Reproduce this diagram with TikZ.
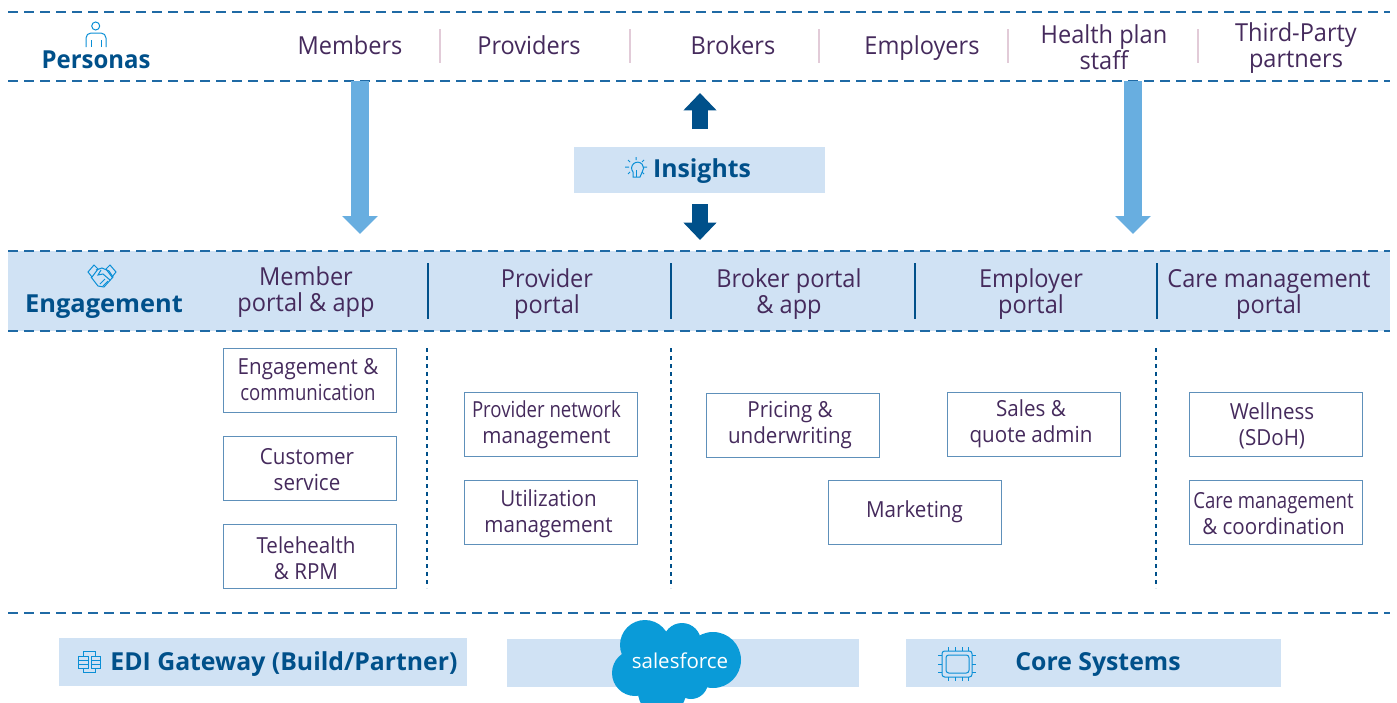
\documentclass[tikz,border=0pt]{standalone}
\usepackage{fontspec}
\setmainfont{Open Sans}
\usetikzlibrary{arrows.meta}
\definecolor{headblue}{HTML}{00508A}
\definecolor{lineblue}{HTML}{1F6AA5}
\definecolor{bandblue}{HTML}{D0E2F4}
\definecolor{arrowblue}{HTML}{68AEE0}
\definecolor{iconblue}{HTML}{0A8FD6}
\definecolor{cloudblue}{HTML}{0A9BD8}
\definecolor{textpurple}{HTML}{452A5C}
\definecolor{sepink}{HTML}{E2CBD8}
\definecolor{boxline}{HTML}{5E90BA}
\newcommand\narrowtext[1]{{\addfontfeature{FakeStretch=.84}#1}}
\tikzset{
  label/.style={inner sep=0pt,align=center,text=textpurple,font=\addfontfeature{FakeStretch=.95}\fontsize{18.6pt}{19.5pt}\selectfont},
  heading/.style={inner sep=0pt,align=center,text=headblue,font=\fontsize{18.6pt}{20pt}\selectfont\bfseries},
  areabox/.style={draw=boxline,line width=.7pt,minimum width=129.75pt,minimum height=48pt,inner sep=0pt},
  areatext/.style={inner sep=0pt,align=center,text=textpurple,font=\addfontfeature{FakeStretch=.93}\fontsize{16.6pt}{19.5pt}\selectfont},
  band/.style={fill=bandblue,inner sep=0pt},
  rule/.style={draw=lineblue,line width=1.1pt,dash pattern=on 7.5pt off 4.5pt},
  portalsep/.style={draw=headblue,line width=1.5pt},
  areasep/.style={draw=headblue,line width=1pt,dash pattern=on 3pt off 3pt},
  personasep/.style={draw=sepink,line width=1.8pt},
  flowdown/.style={draw=arrowblue,line width=13.5pt,-{Triangle[length=13.5pt,width=26pt]}},
  insightflow/.style={draw=headblue,line width=12pt,-{Triangle[length=13pt,width=24pt]}},
  icon/.style={draw=iconblue,line width=.75pt}
}
\begin{document}
\begin{tikzpicture}[x=.75pt,y=-.75pt]
\clip (0, 0) rectangle (1397, 703);

% bands
\fill [bandblue] (8, 251) rectangle (1390, 331);
\node (insightsband) at (699.5, 170) [band,minimum width=188.25pt,minimum height=34.5pt] {};
\node (ediband) at (263, 662) [band,minimum width=306pt,minimum height=36pt] {};
\node (sfband) at (683, 663) [band,minimum width=264pt,minimum height=36pt] {};
\node (coreband) at (1093.5, 663) [band,minimum width=281.25pt,minimum height=36pt] {};

% dashed rules
\coordinate (ruleaL) at (8, 12);
\coordinate (ruleaR) at (1390, 12);
\coordinate (rulebL) at (8, 81);
\coordinate (rulebR) at (1390, 81);
\coordinate (rulecL) at (8, 251);
\coordinate (rulecR) at (1390, 251);
\coordinate (ruledL) at (8, 331);
\coordinate (ruledR) at (1390, 331);
\coordinate (ruleeL) at (8, 613);
\coordinate (ruleeR) at (1390, 613);
\draw [rule] (ruleaL) -- (ruleaR);
\draw [rule] (rulebL) -- (rulebR);
\draw [rule] (rulecL) -- (rulecR);
\draw [rule] (ruledL) -- (ruledR);
\draw [rule] (ruleeL) -- (ruleeR);

% personas
\node (personas) at (96, 60) [heading] {\addfontfeature{FakeStretch=.965}Personas};
\node (members) at (350, 45) [label] {Members};
\node (providers) at (529, 45) [label] {Providers};
\node (brokers) at (733, 45) [label] {Brokers};
\node (employers) at (922, 48) [label] {Employers};
\node (healthplan) at (1104, 47) [label] {Health plan\\staff};
\node (thirdparty) at (1296, 48) [label] {Third-Party\\partners};
\newcommand\personasep[1]{%
\draw [personasep] (#1, 29) -- (#1, 63);%
}
\personasep{440}
\personasep{630}
\personasep{819}
\personasep{1008}
\personasep{1198}

% arrows
\coordinate (memberstart) at (360, 81);
\coordinate (memberend) at (360, 234);
\coordinate (staffstart) at (1133, 81);
\coordinate (staffend) at (1133, 234);
\draw [flowdown] (memberstart) -- (memberend);
\draw [flowdown] (staffstart) -- (staffend);
\coordinate (upstart) at (700, 129);
\coordinate (upend) at (700, 93);
\coordinate (downstart) at (700, 204);
\coordinate (downend) at (700, 240);
\draw [insightflow] (upstart) -- (upend);
\draw [insightflow] (downstart) -- (downend);
\node (insights) at (702, 171) [heading] {Insights};

% engagement
\node (engagement) at (104, 307) [heading] {\addfontfeature{FakeStretch=1.025}Engagement};
\node (memberportal) at (306, 292) [label] {Member\\portal \& app};
\node (providerportal) at (547, 294) [label] {Provider\\portal};
\node (brokerportal) at (789, 294) [label] {Broker portal\\\& app};
\node (employerportal) at (1031, 294) [label] {Employer\\portal};
\node (careportal) at (1269, 294) [label] {Care management\\portal};
\newcommand\portalsep[1]{%
\draw [portalsep] (#1, 263) -- (#1, 319);%
}
\portalsep{428}
\portalsep{671}
\portalsep{915}
\portalsep{1157}
\newcommand\areasep[1]{%
\draw [areasep] (#1, 348) -- (#1, 588);%
}
\areasep{427}
\areasep{671}
\areasep{1156}

% areas
\newcommand\areanode[6]{%
\node (#1box) at (#2, #3) [areabox] {};%
\node (#1) at (#2+#4, #3+#5) [areatext] {#6};%
}
\areanode{engcomm}{309.5}{380}{-1.5}{0}{Engagement \&\\\narrowtext{communication}}
\areanode{custservice}{309.5}{468}{-2.5}{2}{Customer\\service}
\areanode{telehealth}{309.5}{556}{-3.5}{2}{Telehealth\\\& RPM}
\areanode{provnetwork}{550.5}{424}{-4}{1}{\narrowtext{Provider network}\\management}
\areanode{utilization}{550.5}{512}{-2}{2}{Utilization\\management}
\areanode{pricing}{792.5}{425}{-2.5}{.5}{Pricing \&\\underwriting}
\areanode{sales}{1034}{424.5}{-3}{-1}{Sales \&\\quote admin}
\areanode{marketing}{914.5}{512}{0}{0}{Marketing}
\areanode{wellness}{1275.5}{424}{-3.5}{2}{Wellness\\(SDoH)}
\areanode{caremgmt}{1275.5}{512}{-2}{2}{\narrowtext{Care management}\\\& coordination}

% bottom row
\node (edi) at (284, 664) [heading] {EDI Gateway (Build/Partner)};
\node (core) at (1098, 664) [heading] {Core Systems};
\fill [cloudblue] (645, 645) circle (25) (682, 642) circle (19) (713, 660) circle (28) (635, 673) circle (23) (662, 692) circle (24) (691, 682) circle (17) (670, 665) circle (32);
\node (salesforce) at (680, 661) [inner sep=0pt,text=white,font=\fontsize{15.4pt}{16pt}\selectfont] {salesforce};

% icons
\draw [icon] (95.7, 26) circle (4);
\draw [icon] (86, 47) -- (86, 38) arc (180:270:5) -- (101, 33) arc (270:360:5) -- (106, 47);
\draw [icon] (91, 40) -- (91, 47) (101, 40) -- (101, 47);

\draw [icon] (633, 177) -- (633, 172) arc (140:400:6) -- (640, 177) -- cycle;
\draw [icon] (636, 170) -- (636, 177);
\draw [icon] (636, 157) -- (636, 160) (625, 167) -- (629, 167) (643, 167) -- (647, 167) (628, 160) -- (630, 162) (644, 160) -- (642, 162) (628, 174) -- (630, 172) (644, 174) -- (642, 172);

\draw [icon] (88, 272) -- (94, 265) -- (98, 269) -- (92, 277) -- cycle;
\draw [icon] (116, 272) -- (110, 265) -- (106, 269) -- (112, 277) -- cycle;
\draw [icon] (96, 270) -- (102, 268) -- (109, 271) -- (113, 277) -- (104, 287) -- (98, 286) -- (91, 277);
\draw [icon] (101, 270) -- (98, 275) -- (103, 274) -- (110, 280) (100, 284) -- (105, 279) (103, 286) -- (108, 281);

\draw [icon] (78, 656) rectangle (88, 668) (91, 656) rectangle (100, 668);
\draw [icon] (78, 660) -- (88, 660) (78, 664) -- (88, 664) (91, 660) -- (100, 660) (91, 664) -- (100, 664);
\draw [icon] (83, 656) -- (83, 651) -- (95, 651) -- (95, 656) (83, 668) -- (83, 672) -- (95, 672) -- (95, 668);

\draw [icon,rounded corners=2pt] (942, 651) rectangle (972, 677);
\draw [icon,rounded corners=2pt] (946, 655) rectangle (969, 673);
\draw [icon] (948, 647) -- (948, 651) (955, 647) -- (955, 651) (962, 647) -- (962, 651) (968, 647) -- (968, 651);
\draw [icon] (948, 677) -- (948, 681) (955, 677) -- (955, 681) (962, 677) -- (962, 681) (968, 677) -- (968, 681);
\draw [icon] (938, 655) -- (942, 655) (938, 664) -- (942, 664) (938, 672) -- (942, 672);
\draw [icon] (972, 655) -- (976, 655) (972, 664) -- (976, 664) (972, 672) -- (976, 672);
\end{tikzpicture}
\end{document}
